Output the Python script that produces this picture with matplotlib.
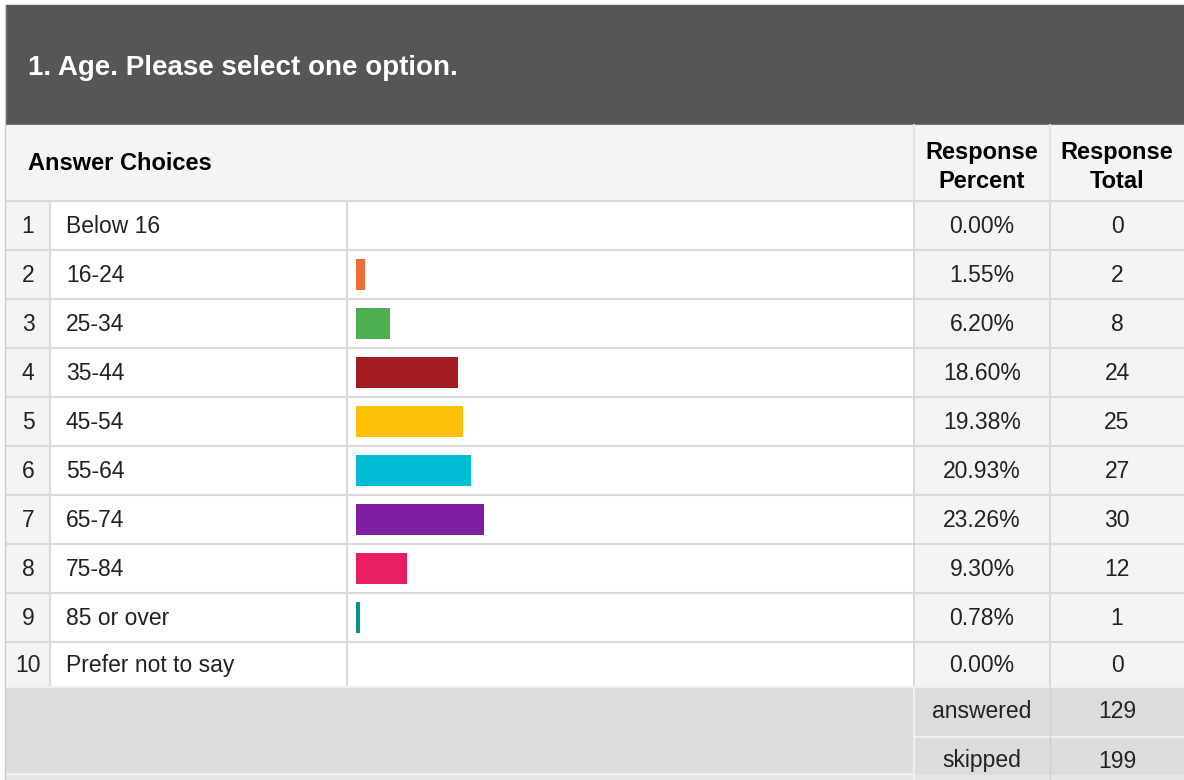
import matplotlib.pyplot as plt
from matplotlib.patches import Rectangle

nums = [1, 2, 3, 4, 5, 6, 7, 8, 9, 10]
choices = ["Below 16", "16-24", "25-34", "35-44", "45-54", "55-64",
           "65-74", "75-84", "85 or over", "Prefer not to say"]
percents = [0.00, 1.55, 6.20, 18.60, 19.38, 20.93, 23.26, 9.30, 0.78, 0.00]
totals = [0, 2, 8, 24, 25, 27, 30, 12, 1, 0]
bar_colors = ["#f26b38", "#f26b38", "#4caf50", "#a21b1f", "#ffc107",
              "#00bcd4", "#7e1fa3", "#e91e63", "#009688", "#009688"]
answered = 129
skipped = 199

plt.rcParams['font.family'] = ['Liberation Sans', 'DejaVu Sans']

W, H = 1184, 780
fig = plt.figure(figsize=(W / 100, H / 100), dpi=100)
fig.patch.set_facecolor("white")
ax = fig.add_axes([0, 0, 1, 1])
ax.set_xlim(0, W)
ax.set_ylim(H, 0)
ax.axis("off")

line_c = "#dadada"
cell_gray = "#f4f4f3"
sum_gray = "#dcdcdc"
txt_c = "#222222"
fs = 16.5

# column edges (pixels)
x0, xnum, xlab, xpct, xtot, x1 = 6, 50, 347, 914, 1050, W
top_rows = 201
row_h = 49
n = len(choices)
bottom_rows = top_rows + row_h * n - 4

# header band
ax.add_patch(Rectangle((x0, 5), x1 - x0, 120, color="#555655", zorder=1))
ax.text(28, 68, "1. Age. Please select one option.", color="white",
        fontsize=20, fontweight="bold", va="center", ha="left", zorder=3)

# column header row
ax.add_patch(Rectangle((x0, 125), x1 - x0, top_rows - 125, color=cell_gray, zorder=1))
ax.text(28, 164, "Answer Choices", fontsize=17, fontweight="bold",
        va="center", ha="left", zorder=3)
ax.text((xpct + xtot) / 2, 167, "Response\nPercent", fontsize=17, fontweight="bold",
        va="center", ha="center", linespacing=1.3, zorder=3)
ax.text((xtot + x1) / 2, 167, "Response\nTotal", fontsize=17, fontweight="bold",
        va="center", ha="center", linespacing=1.3, zorder=3)
ax.plot([xpct, xpct], [125, top_rows], color="#e2e2e2", lw=1.5, zorder=2)
ax.plot([xtot, xtot], [125, top_rows], color="#e2e2e2", lw=1.5, zorder=2)

# body rows
ax.add_patch(Rectangle((x0, top_rows), xnum - x0, bottom_rows - top_rows, color=cell_gray, zorder=1))
ax.add_patch(Rectangle((xpct, top_rows), x1 - xpct, bottom_rows - top_rows, color=cell_gray, zorder=1))
for i in range(n):
    yc = top_rows + row_h * i + row_h / 2 + 1
    if i == n - 1:
        yc -= 2
    ax.text((x0 + xnum) / 2, yc, str(nums[i]), fontsize=fs, va="center", ha="center",
            color=txt_c, zorder=3)
    ax.text(66, yc, choices[i], fontsize=fs, va="center", ha="left",
            color=txt_c, zorder=3)
    ax.text((xpct + xtot) / 2, yc, f"{percents[i]:.2f}%", fontsize=fs,
            va="center", ha="center", color=txt_c, zorder=3)
    ax.text((xtot + x1) / 2, yc, str(totals[i]), fontsize=fs,
            va="center", ha="center", color=txt_c, zorder=3)
    yl = top_rows + row_h * i
    ax.plot([x0, x1], [yl, yl], color=line_c, lw=1.5, zorder=2)

for xv in [xnum, xlab, xpct, xtot]:
    ax.plot([xv, xv], [top_rows, bottom_rows], color=line_c, lw=1.5, zorder=2)

# summary block
ax.add_patch(Rectangle((x0, bottom_rows), x1 - x0, 775 - bottom_rows, color=sum_gray, zorder=1))
ax.add_patch(Rectangle((x0, 775), x1 - x0, H - 775, color="#e6e6e6", zorder=1))
ax.plot([x0, x1], [bottom_rows, bottom_rows], color="#f0f0f0", lw=1.5, zorder=2)
ax.plot([xpct, x1], [737, 737], color="#f0f0f0", lw=1.5, zorder=2)
ax.plot([x0, xpct], [774, 774], color="#f0f0f0", lw=1.5, zorder=2)
ax.plot([xpct, xpct], [bottom_rows, H], color="#f0f0f0", lw=1.5, zorder=2)
ax.plot([xtot, xtot], [bottom_rows, H], color="#cfcfcf", lw=1.0, zorder=2)
ax.text((xpct + xtot) / 2, 712, "answered", fontsize=fs, va="center", ha="center",
        color=txt_c, zorder=3)
ax.text((xtot + x1) / 2, 712, str(answered), fontsize=fs, va="center", ha="center",
        color=txt_c, zorder=3)
ax.text((xpct + xtot) / 2, 761, "skipped", fontsize=fs, va="center", ha="center",
        color=txt_c, zorder=3)
ax.text((xtot + x1) / 2, 761, str(skipped), fontsize=fs, va="center", ha="center",
        color=txt_c, zorder=3)

# left edge line
ax.plot([5, 5], [5, H], color="#cccccc", lw=1.0, zorder=2)

# bar column: its own axes, 0-100 percent across
bx0, bx1 = 356, 906
bax = fig.add_axes([bx0 / W, 1 - (top_rows + row_h * n) / H,
                    (bx1 - bx0) / W, row_h * n / H])
bax.set_xlim(0, 100)
bax.set_ylim(n - 0.5, -0.5)
bax.axis("off")
bax.patch.set_alpha(0)
bax.barh(range(n), percents, height=0.62, color=bar_colors, left=0)

fig.savefig("out.png", dpi=100)
